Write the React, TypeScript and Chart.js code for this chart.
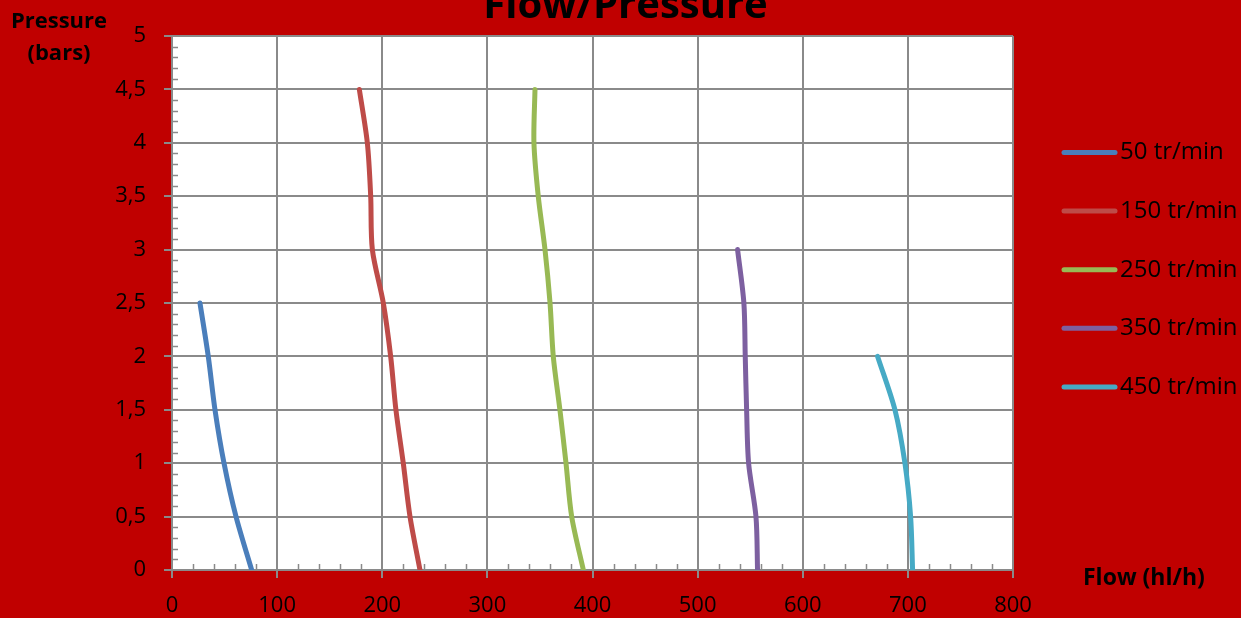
import React, { useEffect, useRef } from 'react';
import { Chart, registerables } from 'chart.js';

Chart.register(...registerables);

const titleText = 'Flow/Pressure';
const yTitleLines = ['Pressure', '(bars)'];
const xTitleText = 'Flow (hl/h)';

const seriesNames = ['50 tr/min', '150 tr/min', '250 tr/min', '350 tr/min', '450 tr/min'];
const seriesColors = ['#4A7EBB', '#BE4B48', '#98B954', '#7D60A0', '#46AAC5'];

const pressure50 = [2.5, 2, 1.5, 1, 0.5, 0];
const flow50 = [26.6, 34.5, 40.9, 49.5, 60.9, 75.8];

const pressure150 = [4.5, 4, 3.5, 3, 2.5, 2, 1.5, 1, 0.5, 0];
const flow150 = [178.2, 185.8, 189, 190.6, 201, 208, 213, 220, 226.4, 235.9];

const pressure250 = [4.5, 4, 3.5, 3, 2.5, 2, 1.5, 1, 0.5, 0];
const flow250 = [345.3, 344.3, 348.4, 354.8, 359.6, 362.7, 369, 374.8, 380.2, 391.3];

const pressure350 = [3, 2.5, 2, 1.5, 1, 0.5, 0];
const flow350 = [538, 544, 545.3, 546.6, 548.5, 555.5, 557];

const pressure450 = [2, 1.5, 1, 0.5, 0];
const flow450 = [671.2, 687.7, 697.2, 702.6, 704.5];

const seriesFlows = [flow50, flow150, flow250, flow350, flow450];
const seriesPressures = [pressure50, pressure150, pressure250, pressure350, pressure450];

const xMin = 0, xMax = 800, xStep = 100, xMinorStep = 20;
const yMin = 0, yMax = 5, yStep = 0.5, yMinorStep = 0.1;

const BG = '#C00000';
const GRID = '#8A8A8A';
const FONT = '"Open Sans", "DejaVu Sans", sans-serif';

export default function App() {
  const canvasRef = useRef<HTMLCanvasElement | null>(null);

  useEffect(() => {
    document.body.style.margin = '0';
    document.body.style.background = BG;
    const canvas = canvasRef.current;
    if (!canvas) return;

    const background = {
      id: 'bgFill',
      beforeDraw(chart: any) {
        const { ctx, chartArea } = chart;
        ctx.save();
        ctx.fillStyle = BG;
        ctx.fillRect(0, 0, chart.width, chart.height);
        ctx.fillStyle = '#FFFFFF';
        ctx.fillRect(chartArea.left, chartArea.top, chartArea.right - chartArea.left, chartArea.bottom - chartArea.top);
        ctx.restore();
      },
    };

    const minorTicks = {
      id: 'minorTicks',
      beforeDatasetsDraw(chart: any) {
        const { ctx, scales } = chart;
        const xs = scales.x, ys = scales.y;
        ctx.save();
        ctx.strokeStyle = GRID;
        ctx.lineWidth = 1.5;
        const nY = Math.round((yMax - yMin) / yMinorStep);
        const perY = Math.round(yStep / yMinorStep);
        for (let i = 1; i < nY; i++) {
          if (i % perY === 0) continue;
          const py = Math.round(ys.getPixelForValue(yMin + i * yMinorStep)) + 0.5;
          ctx.beginPath();
          ctx.moveTo(xs.left, py);
          ctx.lineTo(xs.left + 6, py);
          ctx.stroke();
        }
        const nX = Math.round((xMax - xMin) / xMinorStep);
        const perX = Math.round(xStep / xMinorStep);
        for (let i = 1; i < nX; i++) {
          if (i % perX === 0) continue;
          const px = Math.round(xs.getPixelForValue(xMin + i * xMinorStep)) + 0.5;
          ctx.beginPath();
          ctx.moveTo(px, ys.bottom);
          ctx.lineTo(px, ys.bottom - 6);
          ctx.stroke();
        }
        ctx.restore();
      },
    };

    const texts = {
      id: 'texts',
      afterDraw(chart: any) {
        const { ctx } = chart;
        ctx.save();
        ctx.fillStyle = '#000000';
        // title
        ctx.font = `bold 40px ${FONT}`;
        ctx.textAlign = 'center';
        ctx.textBaseline = 'alphabetic';
        ctx.fillText(titleText, 625.5, 18);
        // y title
        ctx.font = `bold 22px ${FONT}`;
        ctx.textBaseline = 'middle';
        ctx.fillText(yTitleLines[0], 59, 22);
        ctx.fillText(yTitleLines[1], 59, 54);
        // x title
        ctx.font = `bold 23px ${FONT}`;
        ctx.textAlign = 'left';
        ctx.fillText(xTitleText, 1083, 578);
        // legend
        ctx.font = `24px ${FONT}`;
        seriesNames.forEach((name, i) => {
          const cy = 152.5 + i * 58.6;
          ctx.strokeStyle = seriesColors[i];
          ctx.lineWidth = 5;
          ctx.lineCap = 'round';
          ctx.beginPath();
          ctx.moveTo(1064, cy);
          ctx.lineTo(1115, cy);
          ctx.stroke();
          ctx.fillStyle = '#000000';
          ctx.textAlign = 'left';
          ctx.fillText(name, 1120, cy);
        });
        ctx.restore();
      },
    };

    const datasets = seriesNames.map((name, i) => ({
      label: name,
      data: seriesFlows[i].map((f, j) => ({ x: f, y: seriesPressures[i][j] })),
      borderColor: seriesColors[i],
      backgroundColor: seriesColors[i],
      borderWidth: 5,
      borderCapStyle: 'round' as const,
      borderJoinStyle: 'round' as const,
      pointRadius: 0,
      tension: 0.3,
      fill: false,
    }));

    const chart = new Chart(canvas, {
      type: 'line',
      data: { datasets },
      options: {
        animation: false,
        responsive: false,
        maintainAspectRatio: false,
        devicePixelRatio: 1,
        layout: { padding: { left: 0, top: 36, right: 228, bottom: 0 } },
        plugins: {
          legend: { display: false },
          title: { display: false },
          tooltip: { enabled: false },
        },
        scales: {
          x: {
            type: 'linear',
            min: xMin,
            max: xMax,
            afterFit(scale: any) { scale.height = 48; },
            ticks: {
              stepSize: xStep,
              padding: 15,
              color: '#000000',
              font: { family: FONT, size: 22 },
              maxRotation: 0,
            },
            grid: { color: GRID, lineWidth: 2, tickLength: 8, drawTicks: true },
            border: { display: true, color: GRID, width: 2 },
          },
          y: {
            type: 'linear',
            min: yMin,
            max: yMax,
            afterFit(scale: any) { scale.width = 172; },
            ticks: {
              stepSize: yStep,
              padding: 18,
              color: '#000000',
              font: { family: FONT, size: 22 },
              callback: (v: any) => String(v).replace('.', ','),
            },
            grid: { color: GRID, lineWidth: 2, tickLength: 8, drawTicks: true },
            border: { display: true, color: GRID, width: 2 },
          },
        },
      },
      plugins: [background, minorTicks, texts],
    });

    return () => chart.destroy();
  }, []);

  return (
    <div style={{ width: 1241, height: 618, background: BG }}>
      <canvas ref={canvasRef} width={1241} height={618} style={{ display: 'block', width: 1241, height: 618 }} />
    </div>
  );
}
